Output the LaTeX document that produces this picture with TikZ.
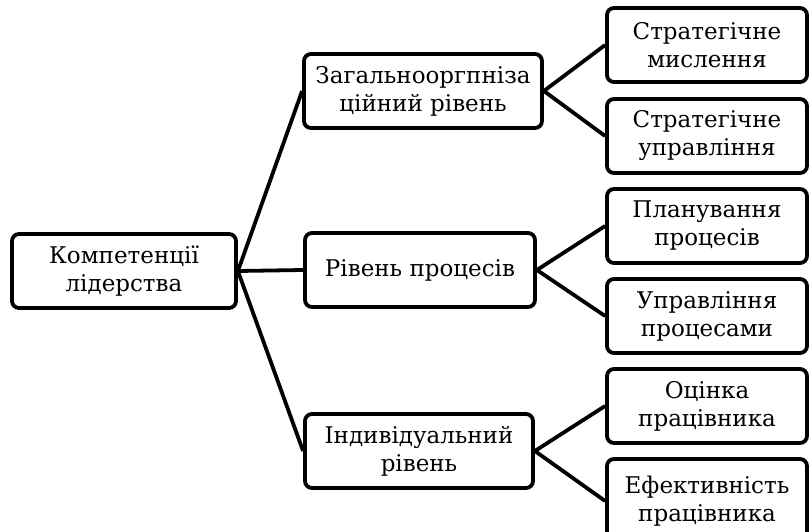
\documentclass[tikz,border=0pt]{standalone}
\usepackage{fontspec}
\setmainfont{DejaVu Serif}
\usetikzlibrary{positioning}
\tikzset{
    mybox/.style = {rectangle, rounded corners=7pt, line width=3.8pt, draw=black, fill=white, align=center, inner sep=0pt, minimum height=74pt, font=\fontsize{23}{28}\selectfont},
    rootbox/.style = {mybox, minimum width=224pt},
    midbox/.style = {mybox, minimum width=236pt},
    leafbox/.style = {mybox, minimum width=200pt},
    edgen/.style = {line width=3.8pt, black}
}
\begin{document}
\begin{tikzpicture}[x=1pt, y=-1pt]
  \useasboundingbox (0,0) rectangle (809,532);

  \node[rootbox] at (124,271) (root) {Компетенції\\лідерства};

  \node[midbox, minimum width=238pt] at (423,91) (org) {Загальнооргпніза\\ційний рівень};
  \node[midbox, minimum width=230pt] at (420,270) (proc) {Рівень процесів};
  \node[midbox, minimum width=228pt] at (419,451) (ind) {Індивідуальний\\рівень};

  \node[leafbox] at (707,45)  (sm) {Стратегічне\\мислення};
  \node[leafbox] at (707,136) (su) {Стратегічне\\управління};
  \node[leafbox] at (707,226) (pp) {Планування\\процесів};
  \node[leafbox] at (707,316) (up) {Управління\\процесами};
  \node[leafbox] at (707,406) (op) {Оцінка\\працівника};
  \node[leafbox, minimum height=84pt] at (707,501) (ep) {Ефективність\\працівника};

  \draw[edgen] (root.east) -- (org.west);
  \draw[edgen] (root.east) -- (proc.west);
  \draw[edgen] (root.east) -- (ind.west);

  \draw[edgen] (org.east) -- (sm.west);
  \draw[edgen] (org.east) -- (su.west);
  \draw[edgen] (proc.east) -- (pp.west);
  \draw[edgen] (proc.east) -- (up.west);
  \draw[edgen] (ind.east) -- (op.west);
  \draw[edgen] (ind.east) -- (ep.west);

\end{tikzpicture}
\end{document}
